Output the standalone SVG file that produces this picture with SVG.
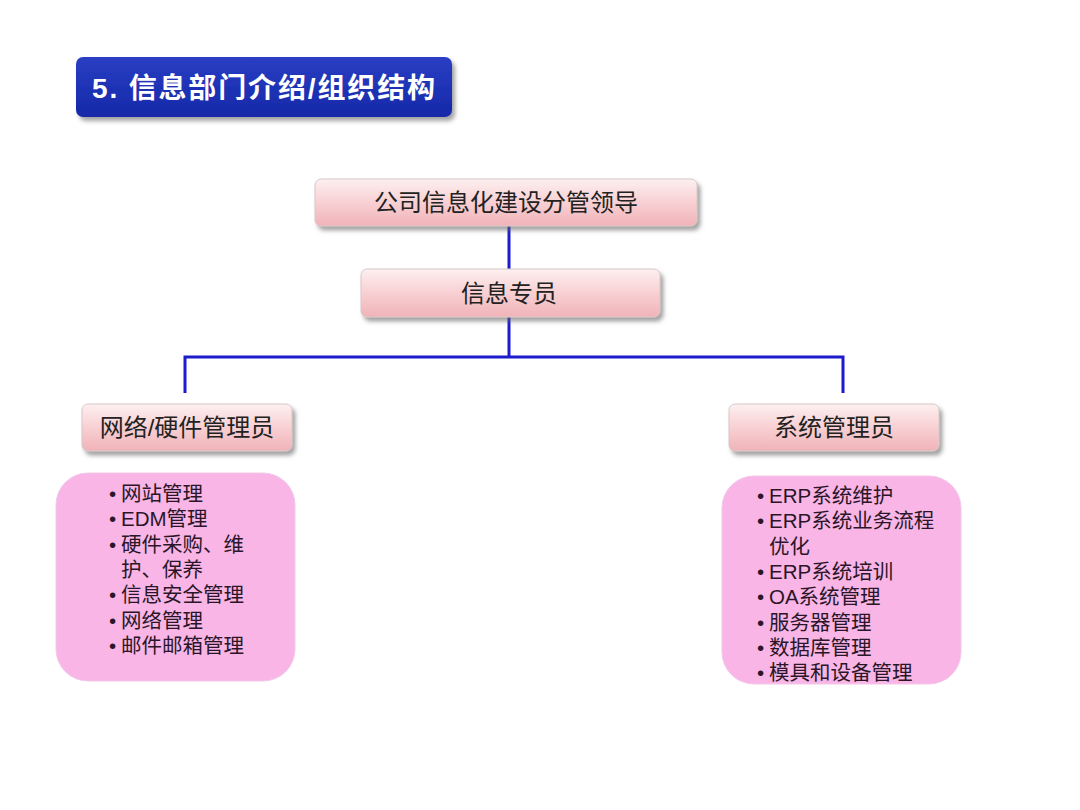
<svg xmlns="http://www.w3.org/2000/svg" width="1080" height="810" viewBox="0 0 1080 810">
<defs>
<linearGradient id="pinkGrad" x1="0" y1="0" x2="0" y2="1">
<stop offset="0" stop-color="#fdf0f0"/>
<stop offset="0.5" stop-color="#f8d0d3"/>
<stop offset="1" stop-color="#f0b3b8"/>
</linearGradient>
<linearGradient id="blueGrad" x1="0" y1="0" x2="0" y2="1">
<stop offset="0" stop-color="#2a3fc4"/>
<stop offset="1" stop-color="#1428a8"/>
</linearGradient>
<filter id="shadow" x="-10%" y="-20%" width="125%" height="160%">
<feDropShadow dx="3" dy="4" stdDeviation="2" flood-color="#666" flood-opacity="0.6"/>
</filter>
</defs>
<style>
.node rect.box{fill:url(#pinkGrad);stroke:#d8c8c8;stroke-width:1;filter:url(#shadow);}
.label{font-family:"Liberation Sans","Noto Sans CJK SC",sans-serif;font-size:24px;fill:#222;text-anchor:middle;}
.list rect{fill:#f8b5e5;stroke:#f3c8e8;stroke-width:1;}
.item{font-family:"Liberation Sans","Noto Sans CJK SC",sans-serif;font-size:20.5px;fill:#2a1628;}
.conn{stroke:#1c1ccc;stroke-width:3;fill:none;}
</style>
<rect width="1080" height="810" fill="#ffffff"/>

<g id="title">
<rect x="76" y="57" width="376" height="60" rx="7" fill="url(#blueGrad)" filter="url(#shadow)"/>
<text x="92" y="98" font-family="Liberation Sans,'Noto Sans CJK SC',sans-serif" font-size="28" font-weight="bold" fill="#ffffff" textLength="343" lengthAdjust="spacing">5. 信息部门介绍/组织结构</text>
</g>

<g id="connectors">
<line class="conn" x1="509" y1="226" x2="509" y2="270"/>
<line class="conn" x1="509" y1="317" x2="509" y2="357"/>
<polyline class="conn" points="185,393 185,357 843,357 843,393"/>
</g>

<g id="node-leader" class="node">
<rect class="box" x="315" y="179" width="382" height="47" rx="6"/>
<text class="label" x="506" y="211">公司信息化建设分管领导</text>
</g>

<g id="node-specialist" class="node">
<rect class="box" x="361" y="269" width="299" height="48" rx="6"/>
<text class="label" x="509" y="302">信息专员</text>
</g>

<g id="node-network" class="node">
<rect class="box" x="82" y="404" width="210" height="47" rx="6"/>
<text class="label" x="187" y="436">网络/硬件管理员</text>
</g>

<g id="node-system" class="node">
<rect class="box" x="729" y="404" width="210" height="47" rx="6"/>
<text class="label" x="834" y="436">系统管理员</text>
</g>

<g id="list-network" class="list">
<rect x="56" y="473" width="239" height="208" rx="32"/>
<text class="item" x="109" y="501">•<tspan x="121">网站管理</tspan></text>
<text class="item" x="109" y="526">•<tspan x="121">EDM管理</tspan></text>
<text class="item" x="109" y="552">•<tspan x="121">硬件采购、维</tspan></text>
<text class="item" x="121" y="577">护、保养</text>
<text class="item" x="109" y="602">•<tspan x="121">信息安全管理</tspan></text>
<text class="item" x="109" y="628">•<tspan x="121">网络管理</tspan></text>
<text class="item" x="109" y="653">•<tspan x="121">邮件邮箱管理</tspan></text>
</g>

<g id="list-system" class="list">
<rect x="722" y="476" width="239" height="208" rx="32"/>
<text class="item" x="757" y="503">•<tspan x="769">ERP系统维护</tspan></text>
<text class="item" x="757" y="528">•<tspan x="769">ERP系统业务流程</tspan></text>
<text class="item" x="769" y="554">优化</text>
<text class="item" x="757" y="579">•<tspan x="769">ERP系统培训</tspan></text>
<text class="item" x="757" y="604">•<tspan x="769">OA系统管理</tspan></text>
<text class="item" x="757" y="630">•<tspan x="769">服务器管理</tspan></text>
<text class="item" x="757" y="655">•<tspan x="769">数据库管理</tspan></text>
<text class="item" x="757" y="680">•<tspan x="769">模具和设备管理</tspan></text>
</g>
</svg>
